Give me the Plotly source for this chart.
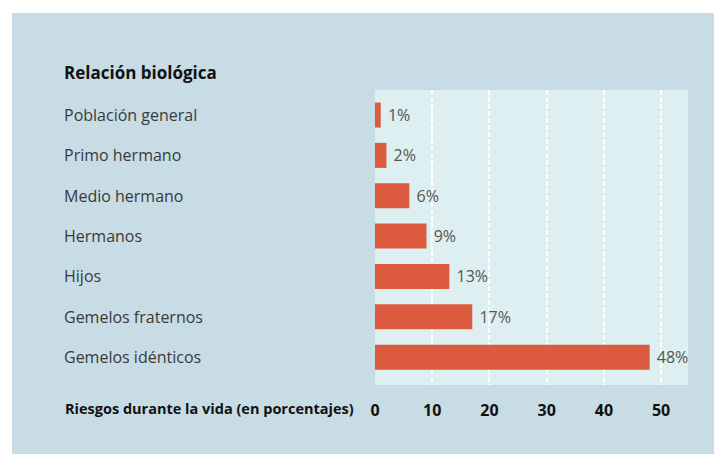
import plotly.graph_objects as go

categories = ["Población general", "Primo hermano", "Medio hermano", "Hermanos",
              "Hijos", "Gemelos fraternos", "Gemelos idénticos"]
values = [1, 2, 6, 9, 13, 17, 48]
value_labels = ["1%", "2%", "6%", "9%", "13%", "17%", "48%"]
tick_values = [0, 10, 20, 30, 40, 50]
tick_labels = ["0", "10", "20", "30", "40", "50"]
title_text = "Relación biológica"
axis_title = "Riesgos durante la vida (en porcentajes)"

# the page body adds an 8px offset; work in reference pixel coordinates
OFF = 8
W, H = 722, 454
PLOT_X0, PLOT_X1, PLOT_Y0, PLOT_Y1 = 375, 688, 90, 385
L = PLOT_X0 - OFF
T = PLOT_Y0 - OFF
PW = PLOT_X1 - PLOT_X0
PH = PLOT_Y1 - PLOT_Y0
R = W - L - PW
B = H - T - PH

def px(x):
    return (x - PLOT_X0) / PW

def py(y):
    return 1 - (y - PLOT_Y0) / PH

FONT = "Open Sans"
PANEL = "#c7dce5"
PLOT = "#ddeff0"
BAR = "#dc5a3d"

fig = go.Figure()
fig.add_trace(go.Bar(
    x=values, y=categories, orientation="h",
    marker=dict(color=BAR, line=dict(width=0)),
    width=0.62,
    text=[" " + v for v in value_labels], textposition="outside",
    textfont=dict(family=FONT, size=16, color="#555555"),
    cliponaxis=False, hoverinfo="skip",
))

# category labels (left aligned)
for c in categories:
    fig.add_annotation(x=px(62), xref="paper", y=c, yref="y", text=c,
                       showarrow=False, xanchor="left", yanchor="middle",
                       font=dict(family=FONT, size=16, color="#3a3a3a"))

fig.add_annotation(x=px(62), xref="paper", y=py(72), yref="paper", text="<b>" + title_text + "</b>",
                   showarrow=False, xanchor="left", yanchor="middle",
                   font=dict(family=FONT, size=17, color="#111111"))
fig.add_annotation(x=px(356), xref="paper", y=py(408), yref="paper", text="<b>" + axis_title + "</b>",
                   showarrow=False, xanchor="right", yanchor="middle",
                   font=dict(family=FONT, size=14.5, color="#111111"))

# white page outside panel
fig.add_shape(type="rect", xref="paper", yref="paper", x0=px(0), x1=px(W + 20), y0=py(-10), y1=py(13),
              fillcolor="white", line=dict(width=0), layer="below")
fig.add_shape(type="rect", xref="paper", yref="paper", x0=px(-10), x1=px(12), y0=py(-10), y1=py(H + 20),
              fillcolor="white", line=dict(width=0), layer="below")

fig.update_layout(
    width=W, height=H,
    margin=dict(l=L, r=R, t=T, b=B),
    paper_bgcolor=PANEL, plot_bgcolor=PLOT,
    showlegend=False,
    bargap=0.38,
    xaxis=dict(range=[0, 54.7], tickvals=tick_values, ticktext=tick_labels,
               showgrid=True, gridcolor="white", griddash="5px,2px", gridwidth=2,
               zeroline=False, showline=False, ticks="",
               tickfont=dict(family=FONT, size=16, color="#111111", weight="bold"),
               ticklabelstandoff=14, fixedrange=True),
    yaxis=dict(range=[6.69, -0.62], showticklabels=False, showgrid=False,
               zeroline=False, showline=False, ticks="", fixedrange=True),
)

fig.write_html("out.html")
